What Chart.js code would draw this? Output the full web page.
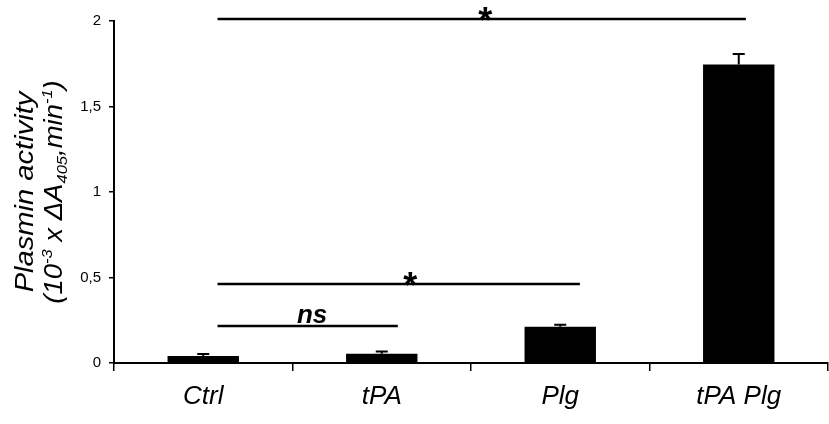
<!DOCTYPE html>
<html>
<head>
<meta charset="utf-8">
<script src="https://cdn.jsdelivr.net/npm/chart.js@4"></script>
<style>
  body { margin: 0; background: #fff; }
  #wrap { width: 829px; height: 424px; }
</style>
</head>
<body>
<div id="wrap"><canvas id="chart"></canvas></div>
<script>
// data
const groups = ['Ctrl', 'tPA', 'Plg', 'tPA Plg'];
const activity = [0.041, 0.054, 0.212, 1.745];
const errUp = [0.012, 0.013, 0.011, 0.062];
const yTicks = [0, 0.5, 1, 1.5, 2];

// significance bars (category positions, y level, label)
const sigFrom = [0.08, 0.08, 0.08];
const sigTo = [3.04, 2.11, 1.09];
const sigLevel = [2.01, 0.462, 0.216];
const sigLabel = ['*', '*', 'ns'];
const sigLabelAt = [1.58, 1.16, 0.61];

const FONT = '"Liberation Sans", Arial, sans-serif';
Chart.defaults.font.family = FONT;
Chart.defaults.color = '#000';

const errorBars = {
  id: 'errorBars',
  afterDatasetsDraw(chart) {
    const ctx = chart.ctx;
    const y = chart.scales.y;
    const meta = chart.getDatasetMeta(0);
    ctx.save();
    ctx.strokeStyle = '#000';
    ctx.lineWidth = 2;
    meta.data.forEach((bar, i) => {
      const top = y.getPixelForValue(activity[i] + errUp[i]);
      ctx.beginPath();
      ctx.moveTo(bar.x, bar.y);
      ctx.lineTo(bar.x, top);
      ctx.moveTo(bar.x - 6, top);
      ctx.lineTo(bar.x + 6, top);
      ctx.stroke();
    });
    ctx.restore();
  }
};

const sigBars = {
  id: 'sigBars',
  afterDraw(chart) {
    const ctx = chart.ctx;
    const x = chart.scales.x;
    const y = chart.scales.y;
    ctx.save();
    ctx.strokeStyle = '#000';
    ctx.fillStyle = '#000';
    ctx.lineWidth = 2.5;
    ctx.textAlign = 'center';
    ctx.textBaseline = 'alphabetic';
    sigLevel.forEach((lvl, i) => {
      const py = Math.round(y.getPixelForValue(lvl));
      ctx.beginPath();
      ctx.moveTo(x.getPixelForValue(sigFrom[i]), py);
      ctx.lineTo(x.getPixelForValue(sigTo[i]), py);
      ctx.stroke();
      const lx = x.getPixelForValue(sigLabelAt[i]);
      if (sigLabel[i] === '*') {
        ctx.font = 'bold 36px ' + FONT;
        ctx.fillText('*', lx, py + 14);
      } else {
        ctx.font = 'italic bold 26px ' + FONT;
        ctx.fillText(sigLabel[i], lx, py - 3);
      }
    });
    ctx.restore();
  }
};

// rotated y title with super/subscripts
const yTitle = {
  id: 'yTitle',
  afterDraw(chart) {
    const ctx = chart.ctx;
    const area = chart.chartArea;
    const cy = (area.top + area.bottom) / 2;
    const big = 'italic 25px ' + FONT;
    const small = 'italic 15px ' + FONT;
    const lines = [
      { x: 33, stretch: 1.12, parts: [['Plasmin activity', 'italic 26px ' + FONT, 0]] },
      { x: 62, stretch: 1.1, parts: [['(10', big, 0], ['-3', small, -10], [' x \u0394A', big, 0], ['405', small, 5],
                       [',min', big, 0], ['-1', small, -10], [')', big, 0]] }
    ];
    lines.forEach(line => {
      ctx.save();
      ctx.translate(line.x, cy);
      ctx.rotate(-Math.PI / 2);
      ctx.scale(line.stretch, 1);
      ctx.fillStyle = '#000';
      ctx.textBaseline = 'alphabetic';
      ctx.textAlign = 'left';
      let w = 0;
      line.parts.forEach(p => { ctx.font = p[1]; w += ctx.measureText(p[0]).width; });
      let px = -w / 2;
      line.parts.forEach(p => {
        ctx.font = p[1];
        ctx.fillText(p[0], px, p[2]);
        px += ctx.measureText(p[0]).width;
      });
      ctx.restore();
    });
  }
};

new Chart(document.getElementById('chart'), {
  type: 'bar',
  data: {
    labels: groups,
    datasets: [{
      data: activity,
      backgroundColor: '#000',
      borderWidth: 0,
      barPercentage: 0.4,
      categoryPercentage: 1
    }]
  },
  options: {
    responsive: true,
    maintainAspectRatio: false,
    animation: false,
    layout: { padding: { top: 21, right: 1, left: 0, bottom: 0 } },
    plugins: { legend: { display: false }, tooltip: { enabled: false } },
    scales: {
      x: {
        offset: true,
        grid: { offset: true, drawOnChartArea: false, drawTicks: true, tickLength: 8, color: '#000', lineWidth: 1.5 },
        border: { color: '#000', width: 2 },
        ticks: { font: { size: 26, style: 'italic' }, padding: 10, color: '#000' },
        afterFit(scale) { scale.height = 61; }
      },
      y: {
        min: 0,
        max: 2,
        afterBuildTicks(scale) { scale.ticks = yTicks.map(v => ({ value: v })); },
        grid: { drawOnChartArea: false, drawTicks: true, tickLength: 5, color: '#000', lineWidth: 1.5 },
        border: { color: '#000', width: 2 },
        ticks: {
          font: { size: 15 },
          padding: 8,
          color: '#000',
          callback: v => String(v).replace('.', ',')
        },
        afterFit(scale) { scale.width = 114; }
      }
    }
  },
  plugins: [errorBars, sigBars, yTitle]
});
</script>
</body>
</html>
